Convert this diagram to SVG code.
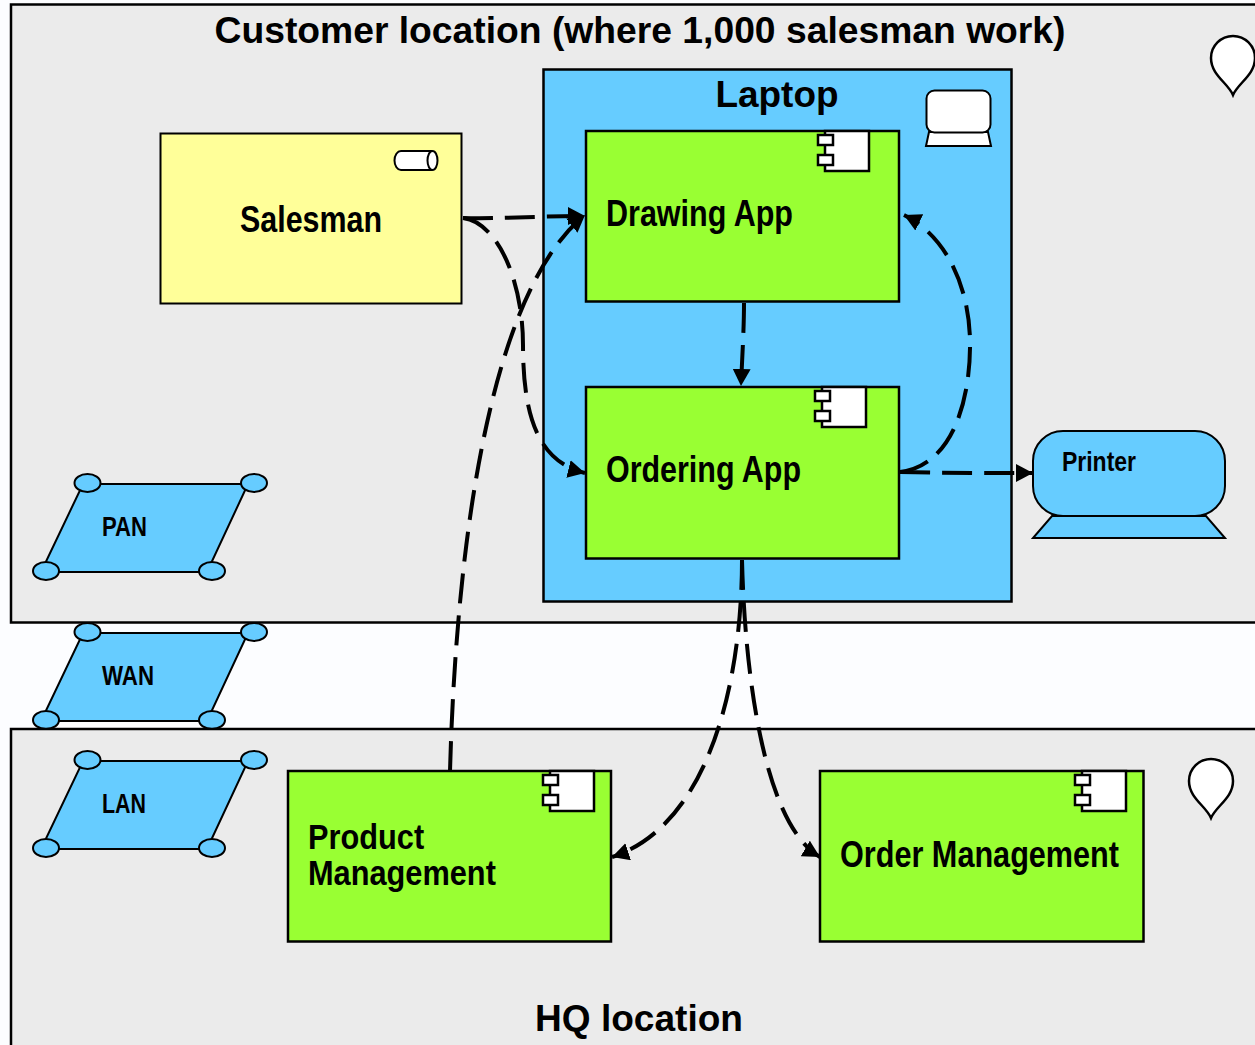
<svg xmlns="http://www.w3.org/2000/svg" width="1255" height="1045" viewBox="0 0 1255 1045">
<style>
text{font-family:"Liberation Sans",Arial,sans-serif;font-weight:bold;fill:#000}
.h{font-size:36px}
.n{font-size:36px}
.s{font-size:27px}
.loc{fill:#ebebeb;stroke:#000;stroke-width:2.5}
.app{fill:#9f3;stroke:#000;stroke-width:2.5}
.blue{fill:#6cf;stroke:#000;stroke-width:2}
.w{fill:#fff;stroke:#000;stroke-width:2}
.k{fill:#fff;stroke:#000;stroke-width:2.5}
.c{fill:none;stroke:#000;stroke-width:4;stroke-dasharray:30 12}
</style>
<defs>
<marker id="a" markerUnits="userSpaceOnUse" markerWidth="20" markerHeight="18" refX="17" refY="9" orient="auto"><path d="M0 0L17 9L0 18Z" fill="#000"/></marker>
<g id="comp"><rect x="7" y="0" width="44" height="40" class="k"/><rect x="0" y="4" width="15" height="10" class="k"/><rect x="0" y="24" width="15" height="10" class="k"/></g>
<g id="net"><path d="M83 484H248L207 572H41Z" class="blue"/><ellipse cx="87.500" cy="483" rx="13" ry="9" class="blue"/><ellipse cx="254" cy="483" rx="13" ry="9" class="blue"/><ellipse cx="46" cy="571" rx="13" ry="9" class="blue"/><ellipse cx="212" cy="571" rx="13" ry="9" class="blue"/></g>
<path id="pin" d="M0 30C-5 18-22 10-22 -7A22 22 0 0 1 22 -7C22 10 5 18 0 30Z" class="k"/>
</defs>
<rect width="1255" height="1045" fill="#fcfdff"/>
<g id="customer"><rect x="11" y="4.500" width="1260" height="618" class="loc"/><text class="h" x="640" y="43" text-anchor="middle" textLength="851" lengthAdjust="spacingAndGlyphs">Customer location (where 1,000 salesman work)</text><use href="#pin" x="1233" y="65"/></g>
<g id="wan"><use href="#net" y="149"/><text class="s" x="102" y="685" textLength="52" lengthAdjust="spacingAndGlyphs">WAN</text></g>
<g id="hq"><rect x="11" y="729" width="1260" height="330" class="loc"/><text class="h" x="639" y="1031" text-anchor="middle" textLength="208" lengthAdjust="spacingAndGlyphs">HQ location</text><use href="#pin" x="1211" y="788"/></g>
<g id="pan"><use href="#net"/><text class="s" x="102" y="536" textLength="45" lengthAdjust="spacingAndGlyphs">PAN</text></g>
<g id="lan"><use href="#net" y="277"/><text class="s" x="102" y="813" textLength="44" lengthAdjust="spacingAndGlyphs">LAN</text></g>
<g id="laptop"><rect x="543.500" y="69.500" width="468" height="532" fill="#6cf" stroke="#000" stroke-width="2.500"/><text class="h" x="777" y="107" text-anchor="middle" textLength="123" lengthAdjust="spacingAndGlyphs">Laptop</text><path d="M929 132H988L991 146H926Z" class="w"/><rect x="926.500" y="90.500" width="64" height="42" rx="8" class="w"/></g>
<g id="salesman"><rect x="160.500" y="133.500" width="301" height="170" fill="#ff9" stroke="#000" stroke-width="2"/><path d="M432 151H401A6.500 9.500 0 0 0 401 170H432" class="w"/><ellipse cx="432.500" cy="160.500" rx="5" ry="9.500" class="w"/><text class="n" x="240" y="232" textLength="142" lengthAdjust="spacingAndGlyphs">Salesman</text></g>
<g id="drawing"><rect x="586" y="131" width="313" height="170.500" class="app"/><use href="#comp" x="818" y="131"/><text class="n" x="606" y="226" textLength="187" lengthAdjust="spacingAndGlyphs">Drawing App</text></g>
<g id="ordering"><rect x="586" y="387" width="313" height="171.500" class="app"/><use href="#comp" x="815" y="387"/><text class="n" x="606" y="482" textLength="195" lengthAdjust="spacingAndGlyphs">Ordering App</text></g>
<g id="printer"><path d="M1052 516H1206L1225 538H1033Z" class="blue"/><rect x="1033" y="431" width="192" height="85" rx="30" class="blue"/><text class="s" x="1062" y="471" textLength="74" lengthAdjust="spacingAndGlyphs">Printer</text></g>
<g id="pm"><rect x="288" y="771" width="323" height="170.500" class="app"/><use href="#comp" x="543" y="771"/><text class="n" transform="translate(308 0) scale(.854 1)"><tspan x="0" y="849">Product</tspan><tspan x="0" y="885">Management</tspan></text></g>
<g id="om"><rect x="820" y="771" width="323.500" height="170.500" class="app"/><use href="#comp" x="1075" y="771"/><text class="n" x="840" y="867" textLength="279" lengthAdjust="spacingAndGlyphs">Order Management</text></g>
<g id="connectors">
<path class="c" marker-end="url(#a)" d="M463 218C500 219 540 216 585 216"/>
<path class="c" marker-end="url(#a)" d="M463 218C497 222 523 280 523 345C523 420 540 462 585 473"/>
<path class="c" marker-end="url(#a)" d="M450 771C455 590 480 300 585 215"/>
<path class="c" marker-end="url(#a)" d="M744 303C744 330 742 360 741 386"/>
<path class="c" marker-end="url(#a)" d="M900 472C955 465 971 395 970 340C969 285 945 235 904 215"/>
<path class="c" marker-end="url(#a)" d="M900 472C945 473 990 473 1033 473"/>
<path class="c" marker-end="url(#a)" d="M742 560C742 680 710 825 612 857"/>
<path class="c" marker-end="url(#a)" d="M742 560C745 680 765 825 820 857"/>
</g>
</svg>
